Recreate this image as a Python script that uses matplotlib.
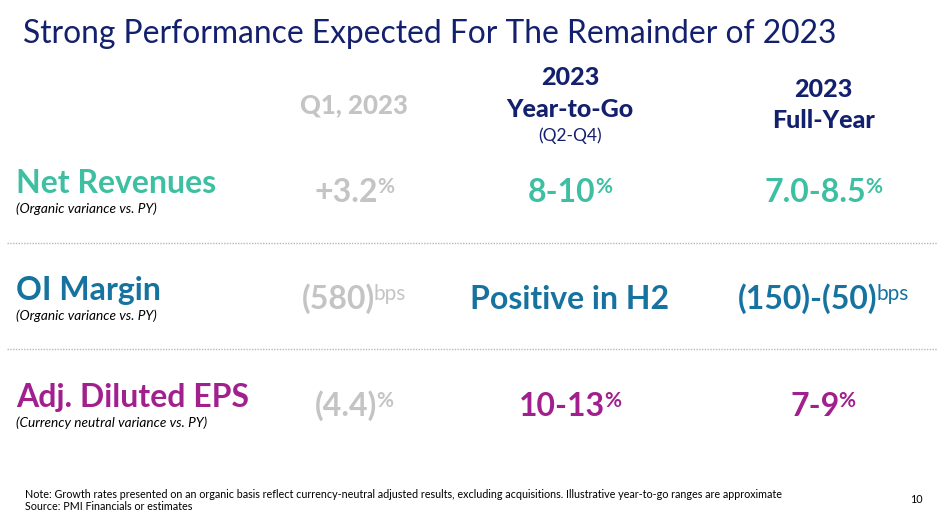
import matplotlib
matplotlib.use("Agg")
import matplotlib.pyplot as plt

plt.rcParams['font.family'] = ['Lato', 'DejaVu Sans']

W, H = 941, 521

# slide content
title = "Strong Performance Expected For The Remainder of 2023"
metrics = ["Net Revenues", "OI Margin", "Adj. Diluted EPS"]
metric_notes = ["(Organic variance vs. PY)", "(Organic variance vs. PY)",
                "(Currency neutral variance vs. PY)"]
q1_values = ["+3.2", "(580)", "(4.4)"]
q1_units = ["%", "bps", "%"]
ytg_values = ["8-10", "Positive in H2", "10-13"]
ytg_units = ["%", "", "%"]
fy_values = ["7.0-8.5", "(150)-(50)", "7-9"]
fy_units = ["%", "bps", "%"]
footnote = ("Note: Growth rates presented on an organic basis reflect currency-neutral "
            "adjusted results, excluding acquisitions. Illustrative year-to-go ranges are approximate")
source = "Source: PMI Financials or estimates"
page_no = "10"

NAVY = '#13206d'
GRAY = '#c4c4c4'
ROW_COLORS = ['#3ebfa2', '#1673a0', '#a1208d']

fig = plt.figure(figsize=(W / 100, H / 100), dpi=100, facecolor='white')
renderer = fig.canvas.get_renderer()


def px(x, y):
    return x / W, 1 - y / H


def ptext(x, y, s, **kw):
    return fig.text(*px(x, y), s, va='baseline', **kw)


def value_text(cx, base, main, sup, color, size=23, sup_size=15, raise_px=9):
    """Main value centred on cx with a small superscript unit."""
    t = ptext(0, base, main, color=color, fontsize=size, fontweight='bold', ha='left')
    w_main = t.get_window_extent(renderer).width
    w_sup = 0
    gap = -1
    s = None
    if sup:
        s = ptext(0, base - raise_px, sup, color=color, fontsize=sup_size,
                  fontweight='bold' if sup == '%' else 'normal', ha='left')
        w_sup = s.get_window_extent(renderer).width
    else:
        gap = 0
    x0 = cx - (w_main + w_sup + gap) / 2
    t.set_position(px(x0, base))
    if s is not None:
        s.set_position(px(x0 + w_main + gap, base - raise_px))


# title
ptext(23, 43, title, color=NAVY, fontsize=22.9)

# column headers
HW = 'black'
ptext(354, 113, "Q1, 2023", color=GRAY, fontsize=18.5, fontweight=HW, ha='center')
ptext(570, 85, "2023", color=NAVY, fontsize=18, fontweight=HW, ha='center')
ptext(570, 117, "Year-to-Go", color=NAVY, fontsize=18, fontweight=HW, ha='center')
ptext(570, 141, "(Q2-Q4)", color=NAVY, fontsize=12.5, ha='center')
ptext(823, 97, "2023", color=NAVY, fontsize=18, fontweight=HW, ha='center')
ptext(823, 128, "Full-Year", color=NAVY, fontsize=18, fontweight=HW, ha='center')

# rows
label_base = [193, 300, 407]
note_base = [213, 320, 427]
value_base = [202, 309, 416]
for i, name in enumerate(metrics):
    c = ROW_COLORS[i]
    ptext(16, label_base[i], name, color=c, fontsize=23, fontweight='bold')
    ptext(16, note_base[i], metric_notes[i], color='black', fontsize=9.8, style='italic')
    value_text(354, value_base[i], q1_values[i], q1_units[i], GRAY)
    value_text(570, value_base[i], ytg_values[i], ytg_units[i], c)
    value_text(823, value_base[i], fy_values[i], fy_units[i], c)

# dotted separators
for y in [243, 349]:
    fig.add_artist(plt.Line2D([7 / W, 937 / W], [1 - y / H, 1 - y / H],
                              transform=fig.transFigure, color='#b8b8b8',
                              linestyle=(0, (1, 1)), linewidth=1.0))

# footnotes
ptext(25, 498, footnote, color='black', fontsize=7.75)
ptext(25, 510, source, color='black', fontsize=7.75)
ptext(923, 503, page_no, color='black', fontsize=7.75, ha='right')

fig.savefig("out.png", dpi=100, facecolor='white')
